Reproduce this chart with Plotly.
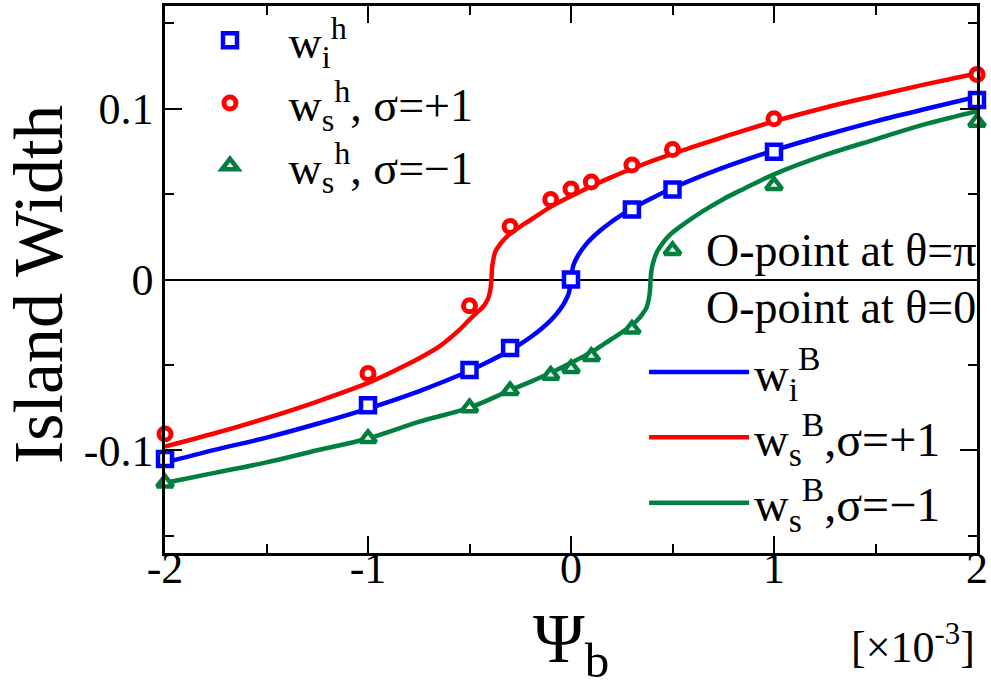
import plotly.graph_objects as go

# Psi_b values (x 1e-3) of the simulation points
psi_i_pts = [-2, -1, -0.5, -0.3, 0, 0.3, 0.5, 1, 2]
wi_h = [-0.105, -0.0735, -0.053, -0.040, 0.0, 0.041, 0.0526, 0.0747, 0.105]

psi_s_pts = [-2, -1, -0.5, -0.3, -0.1, 0, 0.1, 0.3, 0.5, 1, 2]
ws_h_plus = [-0.0904, -0.055, -0.0154, 0.031, 0.0468, 0.053, 0.057, 0.067, 0.076, 0.094, 0.120]
ws_h_minus = [-0.119, -0.093, -0.075, -0.065, -0.056, -0.052, -0.045, -0.029, 0.017, 0.055, 0.092]

# Analytic (B) curves
psi_i_curve = [-2, -1.75, -1.5, -1.25, -1, -0.75, -0.5, -0.4, -0.3, -0.25, -0.2, -0.15, -0.1,
               -0.07, -0.04, -0.02, -0.01, 0, 0.01, 0.02, 0.04, 0.07, 0.1, 0.15, 0.2, 0.25,
               0.3, 0.4, 0.5, 0.75, 1, 1.25, 1.5, 1.75, 2]
wi_B = [-0.107, -0.0995, -0.0925, -0.0844, -0.0755, -0.0654, -0.0534, -0.0477, -0.0414, -0.0378,
        -0.0338, -0.0292, -0.0239, -0.020, -0.0151, -0.0107, -0.0076, 0.0, 0.0076, 0.0107, 0.0151,
        0.020, 0.0239, 0.0292, 0.0338, 0.0378, 0.0414, 0.0477, 0.0534, 0.0654, 0.0755, 0.0844,
        0.0925, 0.0999, 0.107]

psi_p_curve = [-2, -1.75, -1.5, -1.25, -1, -0.85, -0.75, -0.65, -0.55, -0.5, -0.46, -0.43,
               -0.41, -0.398, -0.392, -0.389, -0.383, -0.372, -0.35, -0.325, -0.3, -0.25,
               -0.2, -0.1, 0, 0.1, 0.2, 0.3, 0.5, 0.75, 1, 1.25, 1.5, 1.75, 2]
ws_B_plus = [-0.0977, -0.0898, -0.0811, -0.0714, -0.0605, -0.0522, -0.0462, -0.0393, -0.0295,
             -0.0235, -0.019, -0.0155, -0.0115, -0.0065, 0.0, 0.0065, 0.0115, 0.0165, 0.0205,
             0.024, 0.0268, 0.031, 0.0348, 0.0425, 0.0487, 0.0546, 0.0599, 0.0648, 0.0736,
             0.0833, 0.0925, 0.1005, 0.1075, 0.1143, 0.1206]

psi_m_curve = [-2, -1.75, -1.5, -1.25, -1, -0.75, -0.5, -0.3, -0.2, -0.1, 0, 0.1, 0.2, 0.25,
               0.3, 0.325, 0.35, 0.372, 0.383, 0.389, 0.392, 0.398, 0.41, 0.425, 0.45, 0.47,
               0.5, 0.55, 0.65, 0.75, 0.85, 1, 1.25, 1.5, 1.75, 2]
ws_B_minus = [-0.119, -0.113, -0.107, -0.0999, -0.093, -0.0833, -0.075, -0.0648, -0.0599,
              -0.0546, -0.0487, -0.0425, -0.0348, -0.031, -0.0268, -0.024, -0.0205, -0.0165,
              -0.0115, -0.0065, 0.0, 0.0065, 0.012, 0.0165, 0.021, 0.024, 0.0275, 0.032,
              0.040, 0.047, 0.053, 0.0615, 0.0727, 0.082, 0.091, 0.0985]

x_ticks = [-2, -1, 0, 1, 2]
x_ticktext = ["-2", "-1", "0", "1", "2"]
y_ticks = [-0.1, 0, 0.1]
y_ticktext = ["-0.1", "0", "0.1"]

BLUE = "#0000ff"
RED = "#ff0000"
GREEN = "#007f3f"
FONT = "Liberation Serif, Times New Roman, Times, serif"

fig = go.Figure()

# analytic curves (second legend)
for xs, ys, col, name in [
    (psi_i_curve, wi_B, BLUE, "w<sub>i</sub><sup>B</sup>"),
    (psi_p_curve, ws_B_plus, RED, "w<sub>s</sub><sup>B</sup>,σ=+1"),
    (psi_m_curve, ws_B_minus, GREEN, "w<sub>s</sub><sup>B</sup>,σ=−1"),
]:
    fig.add_trace(go.Scatter(
        x=xs, y=ys, mode="lines", name=name,
        line=dict(color=col, width=4.5, shape="spline", smoothing=1.0),
        legend="legend2", cliponaxis=False,
    ))

# simulation points (first legend)
for xs, ys, col, sym, size, lw, name in [
    (psi_i_pts, wi_h, BLUE, "square", 14, 4.5, "w<sub>i</sub><sup>h</sup>"),
    (psi_s_pts, ws_h_plus, RED, "circle", 12, 5, "w<sub>s</sub><sup>h</sup>, σ=+1"),
    (psi_s_pts, ws_h_minus, GREEN, "triangle-up", 14, 4.5, "w<sub>s</sub><sup>h</sup>, σ=−1"),
]:
    fig.add_trace(go.Scatter(
        x=xs, y=ys, mode="markers", name=name,
        marker=dict(symbol=sym, size=size, color="white", line=dict(color=col, width=lw)),
        legend="legend", cliponaxis=False,
    ))

axis_common = dict(
    showline=True, linecolor="black", linewidth=2.5, mirror="allticks",
    ticks="inside", ticklen=17, tickwidth=2, tickcolor="black",
    showgrid=False,
    tickfont=dict(family=FONT, size=44, color="black"),
)

fig.update_xaxes(
    range=[-2, 2], tickvals=x_ticks, ticktext=x_ticktext, zeroline=False,
    ticklabelstandoff=-26,
    minor=dict(dtick=0.5, tick0=0, ticks="inside", ticklen=9, tickwidth=2, tickcolor="black"),
    **axis_common,
)
fig.update_yaxes(
    range=[-0.16, 0.16], tickvals=y_ticks, ticktext=y_ticktext,
    zeroline=True, zerolinecolor="black", zerolinewidth=1.5,
    minor=dict(dtick=0.05, tick0=0, ticks="inside", ticklen=9, tickwidth=2, tickcolor="black"),
    **axis_common,
)

legend_common = dict(
    xanchor="left", yanchor="top", bgcolor="rgba(0,0,0,0)", borderwidth=0,
    traceorder="normal", itemclick=False, itemdoubleclick=False,
)

fig.update_layout(
    width=991, height=682,
    margin=dict(l=165, r=11, t=3, b=129),
    paper_bgcolor="white", plot_bgcolor="white",
    showlegend=True,
    legend=dict(x=0.008, y=1.004, itemwidth=107,
                font=dict(family=FONT, size=46, color="black"), **legend_common),
    legend2=dict(x=0.59, y=0.40, itemwidth=100,
                 font=dict(family=FONT, size=48, color="black"), **legend_common),
    annotations=[
        dict(text="O-point at θ=π", xref="paper", yref="y", x=0.664, y=0, yshift=2,
             xanchor="left", yanchor="bottom", showarrow=False,
             font=dict(family=FONT, size=46, color="black")),
        dict(text="O-point at θ=0", xref="paper", yref="y", x=0.664, y=0,
             xanchor="left", yanchor="top", showarrow=False,
             font=dict(family=FONT, size=46, color="black")),
        dict(text="[×10<sup>-3</sup>]", xref="paper", yref="paper", x=1.0, y=-0.167,
             xanchor="right", yanchor="middle", showarrow=False,
             font=dict(family=FONT, size=44, color="black")),
        dict(text="Ψ<sub>b</sub>", xref="paper", yref="paper", x=0.5, y=-0.082,
             xanchor="center", yanchor="top", showarrow=False,
             font=dict(family=FONT, size=70, color="black")),
        dict(text="Island Width", xref="paper", yref="paper", x=-0.155, y=0.49,
             xanchor="center", yanchor="middle", textangle=-90, showarrow=False,
             font=dict(family=FONT, size=70, color="black")),
    ],
)

fig.write_html("out.html")
